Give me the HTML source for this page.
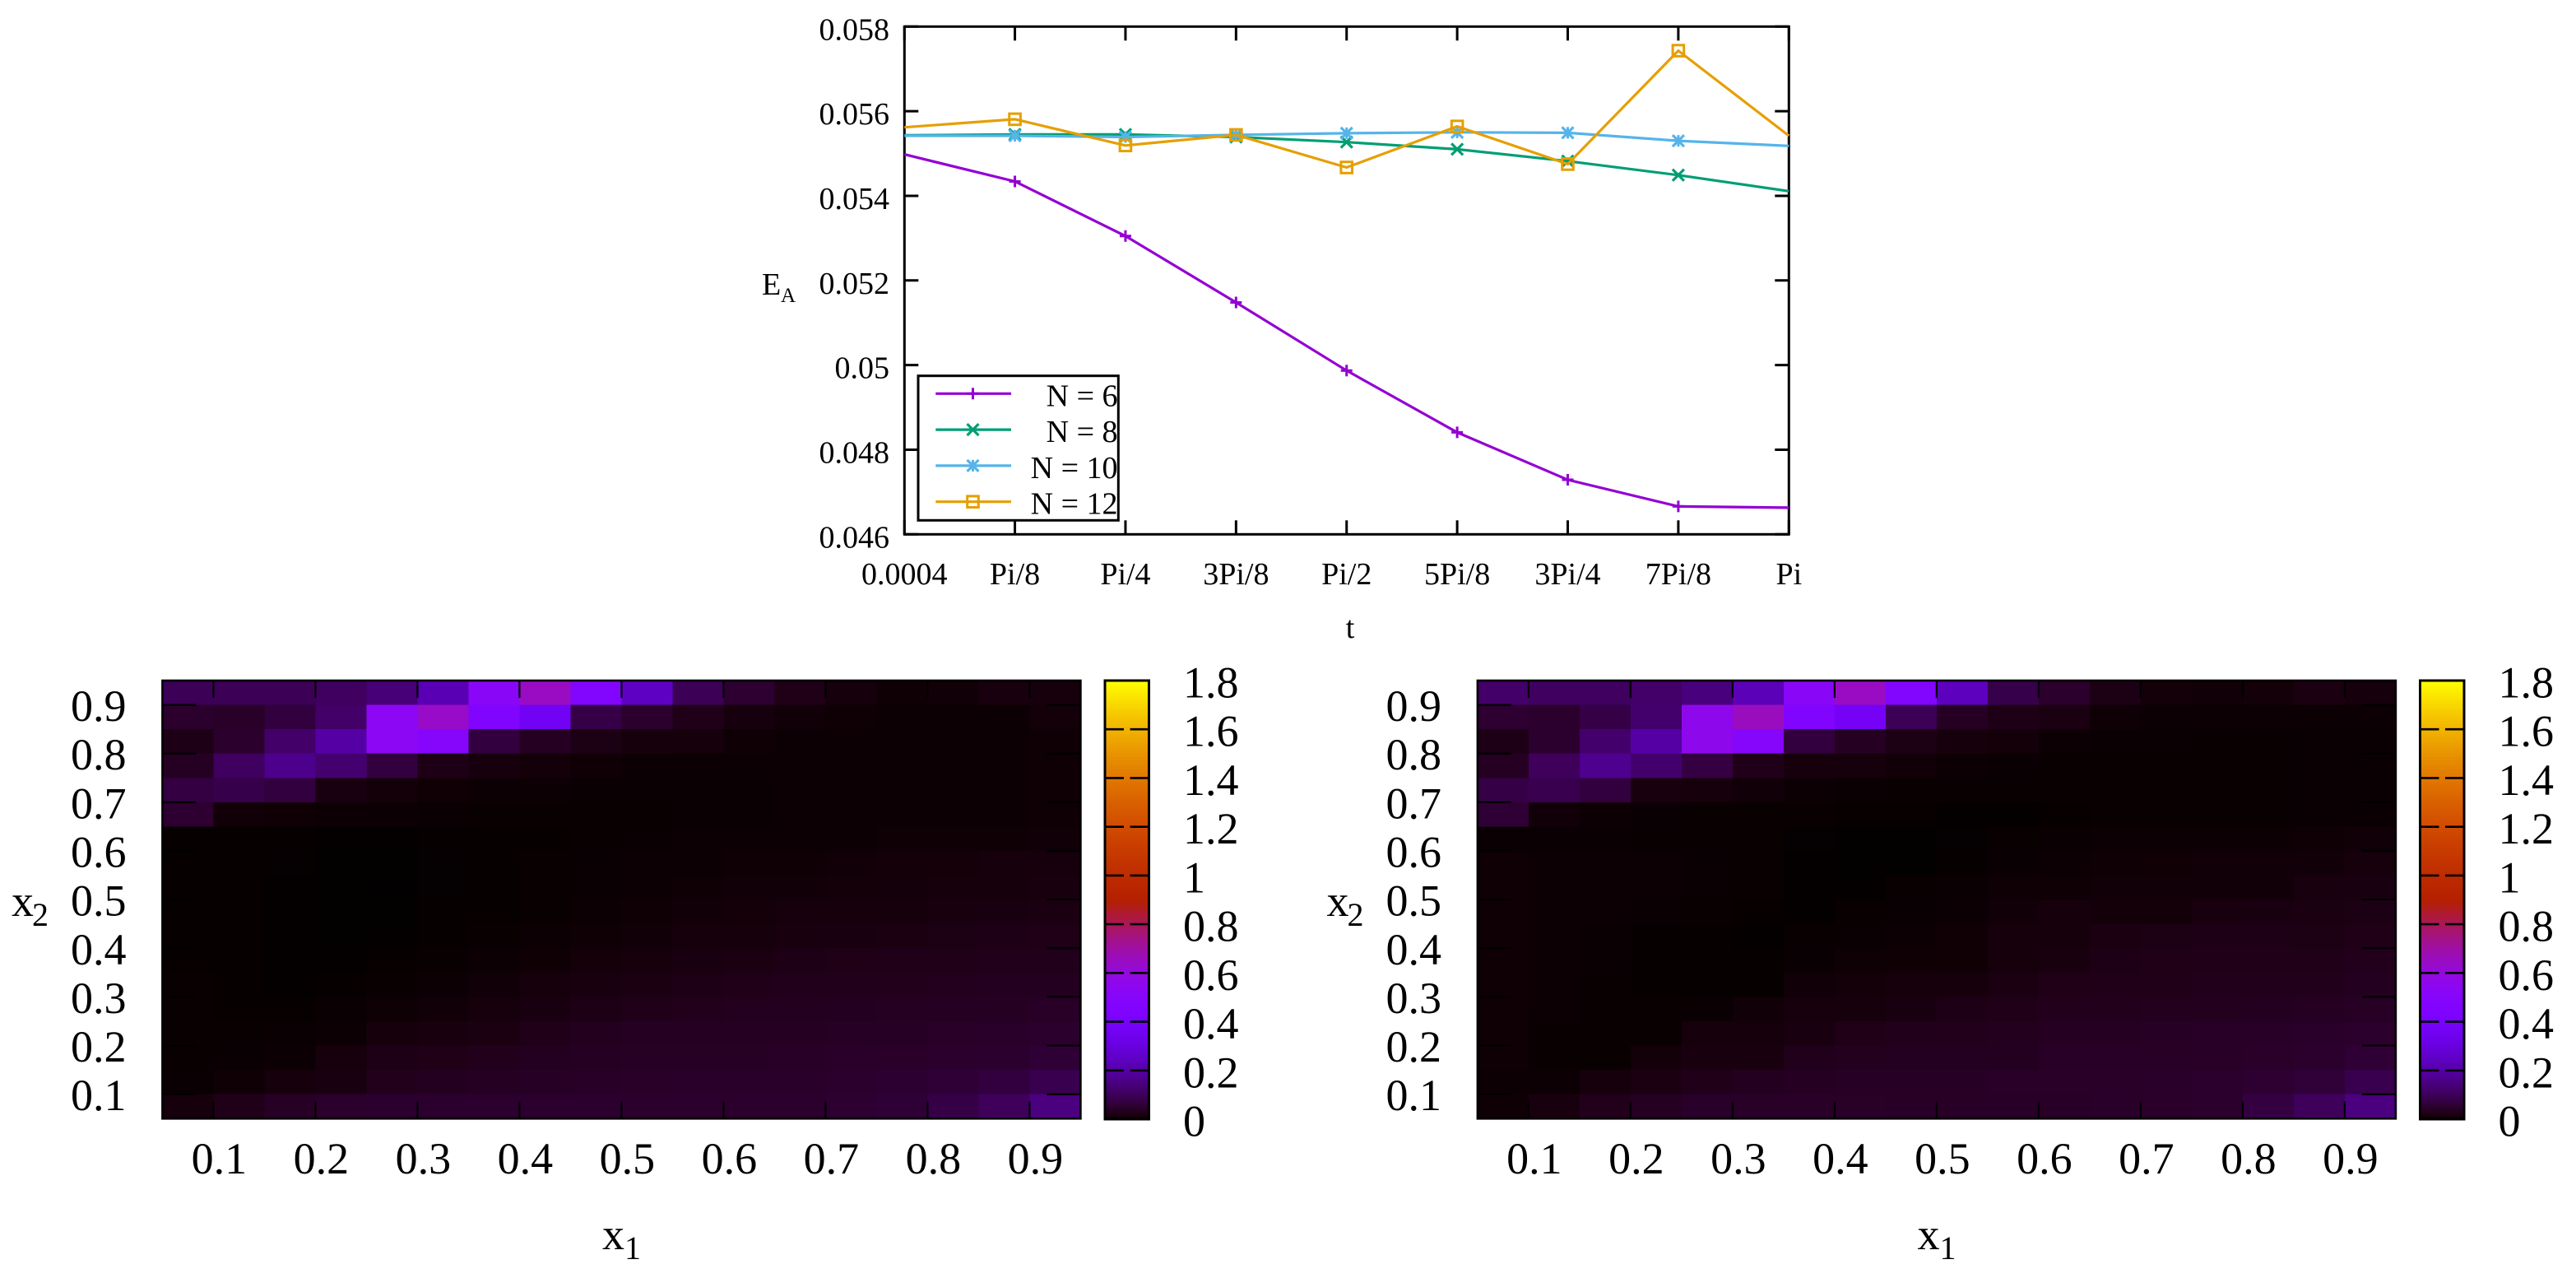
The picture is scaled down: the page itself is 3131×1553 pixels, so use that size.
<!DOCTYPE html>
<html lang="en">
<head>
<meta charset="utf-8">
<title>E_A vs t and x1-x2 heatmaps</title>
<style>
html,body{margin:0;padding:0;background:#fff;}
svg{display:block;}
text{font-family:"Liberation Serif","Times New Roman",serif;fill:#000;}
</style>
</head>
<body>
<svg id="figure" xmlns="http://www.w3.org/2000/svg" width="3131" height="1553" viewBox="0 0 3131 1553">
  <rect x="0" y="0" width="3131" height="1553" fill="#ffffff"/>
  <g id="line-chart">
    <text x="926" y="358" font-size="38">E</text>
    <text x="949" y="367" font-size="25">A</text>
    <text x="1641" y="775" font-size="38" text-anchor="middle">t</text>
  </g>
  <g id="heatmap-left"></g>
  <g id="heatmap-right" transform="translate(1598.5 0)"></g>
</svg>
<script>
// ---------- line chart data ----------
const tValues = [0.0004, 0.3927, 0.7854, 1.1781, 1.5708, 1.9635, 2.3562, 2.7489, 3.1416];
const tLabels = ["0.0004", "Pi/8", "Pi/4", "3Pi/8", "Pi/2", "5Pi/8", "3Pi/4", "7Pi/8", "Pi"];
const yTicks = [0.046, 0.048, 0.05, 0.052, 0.054, 0.056, 0.058];
const yTickLabels = ["0.046", "0.048", "0.05", "0.052", "0.054", "0.056", "0.058"];
const seriesN6 = [0.05498, 0.05434, 0.05305, 0.05148, 0.04987, 0.04841, 0.04729, 0.04666, 0.04663];
const seriesN8 = [0.05543, 0.05545, 0.05545, 0.05539, 0.05527, 0.0551, 0.05482, 0.05449, 0.05411];
const seriesN10 = [0.05542, 0.05542, 0.05539, 0.05544, 0.05548, 0.0555, 0.05549, 0.0553, 0.05518];
const seriesN12 = [0.05562, 0.05581, 0.05519, 0.05544, 0.05467, 0.05564, 0.05475, 0.05743, 0.05542];
const legendLabels = ["N = 6", "N = 8", "N = 10", "N = 12"];

// ---------- heatmap data (rows listed from top, x2 = 0.95 down to 0.05) ----------
const gridEdges = [0.05, 0.10, 0.15, 0.20, 0.25, 0.30, 0.35, 0.40, 0.45, 0.50, 0.55, 0.60, 0.65, 0.70, 0.75, 0.80, 0.85, 0.90, 0.95];
const axisTicks = [0.1, 0.2, 0.3, 0.4, 0.5, 0.6, 0.7, 0.8, 0.9];
const axisTickLabels = ["0.1", "0.2", "0.3", "0.4", "0.5", "0.6", "0.7", "0.8", "0.9"];
const colorTicks = [0, 0.2, 0.4, 0.6, 0.8, 1, 1.2, 1.4, 1.6, 1.8];
const colorTickLabels = ["0", "0.2", "0.4", "0.6", "0.8", "1", "1.2", "1.4", "1.6", "1.8"];
const heatLeft = [
[.10,.10,.10,.11,.14,.225,.52,.65,.47,.25,.10,.055,.026,.012,.006,.008,.016,.014],
[.05,.045,.07,.12,.54,.64,.46,.36,.08,.05,.027,.015,.008,.006,.004,.004,.005,.01],
[.025,.05,.12,.2,.54,.5,.07,.04,.022,.014,.012,.006,.005,.004,.004,.004,.005,.006],
[.04,.11,.165,.13,.07,.025,.015,.01,.007,.005,.004,.004,.004,.004,.004,.004,.005,.006],
[.075,.085,.07,.018,.01,.007,.005,.004,.003,.003,.003,.003,.004,.004,.004,.004,.005,.006],
[.055,.008,.006,.005,.004,.003,.002,.002,.002,.002,.003,.003,.004,.004,.004,.004,.005,.006],
[.001,.001,.001,.0005,.0005,.001,.001,.001,.002,.003,.004,.004,.005,.005,.006,.006,.006,.008],
[.0015,.001,.0008,.0002,.0002,.0008,.001,.002,.003,.004,.005,.006,.006,.008,.01,.01,.012,.012],
[.0015,.001,.0005,.0002,.0001,.0006,.001,.002,.003,.004,.006,.008,.008,.01,.011,.012,.014,.016],
[.0015,.001,.0005,.0002,.0003,.001,.0012,.002,.004,.006,.008,.01,.012,.012,.014,.016,.018,.02],
[.0015,.001,.0005,.0003,.0005,.001,.002,.004,.006,.008,.012,.014,.016,.018,.02,.022,.024,.026],
[.001,.001,.0005,.0005,.001,.002,.004,.006,.01,.014,.018,.02,.024,.026,.028,.028,.03,.03],
[.002,.001,.0005,.001,.002,.004,.008,.012,.016,.02,.024,.028,.03,.03,.032,.034,.036,.036],
[.002,.001,.001,.003,.006,.008,.012,.018,.024,.028,.032,.034,.034,.036,.038,.04,.04,.044],
[.002,.002,.003,.005,.014,.016,.02,.028,.034,.038,.038,.04,.04,.042,.042,.045,.046,.05],
[.002,.003,.005,.012,.024,.026,.032,.036,.04,.042,.042,.042,.044,.046,.048,.05,.052,.06],
[.003,.006,.014,.018,.032,.036,.04,.042,.044,.045,.046,.046,.046,.05,.054,.06,.07,.09],
[.012,.028,.042,.05,.052,.052,.052,.052,.052,.05,.05,.05,.05,.055,.06,.08,.105,.15]
];
const heatRight = [
[.12,.11,.11,.12,.145,.23,.52,.65,.47,.24,.085,.05,.022,.01,.008,.01,.02,.012],
[.055,.05,.08,.125,.56,.66,.46,.38,.1,.04,.025,.02,.006,.004,.004,.004,.004,.004],
[.025,.052,.125,.2,.56,.5,.07,.04,.022,.014,.01,.004,.003,.003,.002,.002,.003,.003],
[.04,.105,.17,.125,.075,.028,.014,.012,.008,.004,.003,.002,.002,.002,.002,.002,.003,.003],
[.08,.09,.07,.016,.012,.008,.004,.003,.002,.002,.002,.002,.002,.002,.002,.002,.003,.003],
[.06,.008,.005,.003,.002,.002,.002,.001,.001,.0005,.0005,.001,.002,.002,.002,.002,.003,.003],
[.003,.003,.003,.002,.002,.002,.0008,.0002,.0002,.0008,.002,.003,.004,.004,.005,.005,.006,.008],
[.006,.005,.004,.004,.003,.002,.0005,.0002,.0002,.001,.003,.004,.006,.007,.008,.008,.009,.012],
[.006,.005,.004,.004,.003,.002,.0005,.0005,.002,.003,.006,.006,.008,.008,.008,.008,.016,.018],
[.006,.004,.004,.003,.002,.001,.0005,.002,.003,.004,.008,.012,.01,.01,.016,.018,.02,.022],
[.006,.004,.003,.001,.001,.0005,.002,.003,.004,.007,.012,.014,.02,.022,.024,.024,.022,.026],
[.006,.004,.003,.001,.001,.001,.003,.006,.006,.007,.012,.016,.024,.026,.028,.028,.028,.032],
[.006,.004,.002,.001,.001,.001,.008,.01,.012,.014,.02,.026,.028,.028,.03,.03,.03,.036],
[.006,.004,.002,.002,.003,.008,.012,.012,.018,.024,.028,.032,.032,.034,.034,.036,.04,.042],
[.006,.002,.002,.002,.012,.013,.018,.026,.03,.032,.034,.04,.04,.042,.044,.044,.046,.05],
[.006,.002,.002,.01,.016,.016,.03,.034,.036,.036,.036,.044,.044,.044,.044,.048,.05,.06],
[.004,.004,.012,.02,.028,.036,.04,.042,.043,.042,.045,.045,.045,.046,.05,.055,.065,.09],
[.006,.016,.032,.04,.046,.045,.045,.045,.044,.044,.044,.044,.046,.048,.05,.075,.105,.15]
];

// ---------- helpers ----------
const NS = "http://www.w3.org/2000/svg";
function make(tag, parent) {
  const el = document.createElementNS(NS, tag);
  parent.appendChild(el);
  return el;
}
function line(parent, x1, y1, x2, y2, color, width) {
  const el = make("line", parent);
  el.setAttribute("x1", x1);
  el.setAttribute("y1", y1);
  el.setAttribute("x2", x2);
  el.setAttribute("y2", y2);
  el.setAttribute("stroke", color);
  el.setAttribute("stroke-width", width);
  return el;
}
function label(parent, x, y, size, anchor, str) {
  const el = make("text", parent);
  el.setAttribute("x", x);
  el.setAttribute("y", y);
  el.setAttribute("font-size", size);
  el.setAttribute("text-anchor", anchor);
  el.textContent = str;
  return el;
}
function palette(t) {
  const f = Math.max(0, Math.min(1, t));
  const r = Math.round(255 * Math.sqrt(f));
  const g = Math.round(255 * f * f * f);
  const b = Math.round(255 * Math.max(0, Math.sin(2 * Math.PI * f)));
  return "rgb(" + r + "," + g + "," + b + ")";
}

// ---------- line chart ----------
const chart = document.getElementById("line-chart");
const plotL = 1099.3, plotR = 2174.3, plotT = 32.3, plotB = 649.3;
function xScale(t) {
  return plotL + (t - tValues[0]) / (tValues[tValues.length - 1] - tValues[0]) * (plotR - plotL);
}
function yScale(v) {
  return plotB - (v - 0.046) / (0.058 - 0.046) * (plotB - plotT);
}
yTicks.forEach(function (v, i) {
  const y = yScale(v);
  const a = line(chart, plotL, y, plotL + 17, y, "#000", 3);
  
  
  const b = line(chart, plotR - 17, y, plotR, y, "#000", 3);
  
  
  const t = label(chart, 1081, y + 16, 38, "end", yTickLabels[i]);
  
  
});
tValues.forEach(function (v, i) {
  const x = xScale(v);
  const a = line(chart, x, plotB - 17, x, plotB, "#000", 3);
  
  
  const b = line(chart, x, plotT, x, plotT + 17, "#000", 3);
  
  
  const t = label(chart, x, 710, 38, "middle", tLabels[i]);
  
  
});
const frame = make("rect", chart);
frame.setAttribute("x", plotL);
frame.setAttribute("y", plotT);
frame.setAttribute("width", plotR - plotL);
frame.setAttribute("height", plotB - plotT);
frame.setAttribute("fill", "none");
frame.setAttribute("stroke", "#000");
frame.setAttribute("stroke-width", 3);



function drawMarker(parent, kind, cx, cy, color) {
  const g = make("g", parent);
  g.setAttribute("stroke", color);
  g.setAttribute("stroke-width", 3);
  g.setAttribute("fill", "none");
  const s = 7;
  if (kind === "plus" || kind === "star") {
    if (kind === "plus") {
      line(g, cx - s, cy, cx + s, cy, color, 3);
    }
    line(g, cx, cy - s, cx, cy + s, color, 3);
  }
  if (kind === "cross" || kind === "star") {
    line(g, cx - s, cy - s, cx + s, cy + s, color, 3.2);
    line(g, cx - s, cy + s, cx + s, cy - s, color, 3.2);
  }
  if (kind === "square") {
    const r = make("rect", g);
    r.setAttribute("x", cx - 6.8);
    r.setAttribute("y", cy - 6.8);
    r.setAttribute("width", 13.6);
    r.setAttribute("height", 13.6);
  }
  return g;
}
function drawSeries(values, color, kind, name) {
  const g = make("g", chart);
  
  
  const path = make("polyline", g);
  path.setAttribute("points", values.map(function (v, i) {
    return xScale(tValues[i]).toFixed(1) + "," + yScale(v).toFixed(1);
  }).join(" "));
  path.setAttribute("fill", "none");
  path.setAttribute("stroke", color);
  path.setAttribute("stroke-width", 3.2);
  
  
  values.forEach(function (v, i) {
    if (i === 0 || i === values.length - 1) return;
    const m = drawMarker(g, kind, xScale(tValues[i]), yScale(v), color);
    
    
  });
}
const seriesColors = ["#9400D3", "#009E73", "#56B4E9", "#E69F00"];
const seriesKinds = ["plus", "cross", "star", "square"];
drawSeries(seriesN6, seriesColors[0], seriesKinds[0], "series-n6");
drawSeries(seriesN8, seriesColors[1], seriesKinds[1], "series-n8");
drawSeries(seriesN10, seriesColors[2], seriesKinds[2], "series-n10");
drawSeries(seriesN12, seriesColors[3], seriesKinds[3], "series-n12");

// legend
const legend = make("g", chart);


const legendBg = make("rect", legend);
legendBg.setAttribute("x", 1116);
legendBg.setAttribute("y", 456.7);
legendBg.setAttribute("width", 243.3);
legendBg.setAttribute("height", 175.6);
legendBg.setAttribute("fill", "#fff");


legendLabels.forEach(function (txt, i) {
  const y = 478.3 + i * 43.8;
  const entry = make("g", legend);
  
  
  const l = line(entry, 1137.3, y, 1229, y, seriesColors[i], 3.2);
  
  
  const m = drawMarker(entry, seriesKinds[i], 1182.5, y, seriesColors[i]);
  
  
  const t = label(entry, 1358.5, y + 15, 38, "end", txt);
  
  
});
const legendBox = make("rect", legend);
legendBox.setAttribute("x", 1116);
legendBox.setAttribute("y", 456.7);
legendBox.setAttribute("width", 243.3);
legendBox.setAttribute("height", 175.6);
legendBox.setAttribute("fill", "none");
legendBox.setAttribute("stroke", "#000");
legendBox.setAttribute("stroke-width", 3);



// ---------- heatmaps ----------
const hmL = 197.4, hmR = 1313.4, hmT = 827, hmB = 1359.3;
const cbL = 1343, cbR = 1396.5, cbT = 828, cbB = 1360;
const colorMax = 1.8;
function hx(v) { return hmL + (v - 0.05) / 0.9 * (hmR - hmL); }
function hy(v) { return hmB - (v - 0.05) / 0.9 * (hmB - hmT); }
function cy(v) { return cbB - v / colorMax * (cbB - cbT + 1); }

function drawHeatmap(root, grid) {
  const cells = make("g", root);
  cells.setAttribute("shape-rendering", "crispEdges");
  
  
  grid.forEach(function (row, r) {
    row.forEach(function (val, c) {
      const x0 = hx(gridEdges[c]);
      const x1 = hx(gridEdges[c + 1]);
      const y0 = hy(gridEdges[gridEdges.length - 1 - r]);
      const y1 = hy(gridEdges[gridEdges.length - 2 - r]);
      const cell = make("rect", cells);
      cell.setAttribute("x", x0.toFixed(2));
      cell.setAttribute("y", y0.toFixed(2));
      cell.setAttribute("width", (x1 - x0 + 0.5).toFixed(2));
      cell.setAttribute("height", (y1 - y0 + 0.5).toFixed(2));
      cell.setAttribute("fill", palette(val / colorMax));
      
      
    });
  });
  axisTicks.forEach(function (v, i) {
    const x = hx(v);
    const y = hy(v);
    const a = line(root, x, hmB - 21, x, hmB, "#000", 2.2);
    
    
    const b = line(root, x, hmT, x, hmT + 21, "#000", 2.2);
    
    
    const c = line(root, hmL, y, hmL + 41, y, "#000", 2.2);
    
    
    const d = line(root, hmR - 41, y, hmR, y, "#000", 2.2);
    
    
    const tx = label(root, x + 7, 1426, 54, "middle", axisTickLabels[i]);
    
    
    const ty = label(root, 153.5, y + 19.5, 54, "end", axisTickLabels[i]);
    
    
  });
  const box = make("rect", root);
  box.setAttribute("x", hmL);
  box.setAttribute("y", hmT);
  box.setAttribute("width", hmR - hmL);
  box.setAttribute("height", hmB - hmT);
  box.setAttribute("fill", "none");
  box.setAttribute("stroke", "#000");
  box.setAttribute("stroke-width", 2.6);
  
  

  // axis titles
  const xt = label(root, 732, 1518, 54, "start", "x");
  
  
  const xs = label(root, 759, 1530, 40, "start", "1");
  
  
  const yt = label(root, 14, 1113, 54, "start", "x");
  
  
  const ys = label(root, 39, 1125, 40, "start", "2");
  
  

  // colorbar
  const bar = make("g", root);
  bar.setAttribute("shape-rendering", "crispEdges");
  
  
  const steps = 133;
  for (let i = 0; i < steps; i++) {
    const v0 = colorMax * i / steps;
    const v1 = colorMax * (i + 1) / steps;
    const strip = make("rect", bar);
    strip.setAttribute("x", cbL);
    strip.setAttribute("y", cy(v1).toFixed(2));
    strip.setAttribute("width", cbR - cbL);
    strip.setAttribute("height", (cy(v0) - cy(v1) + 0.5).toFixed(2));
    strip.setAttribute("fill", palette((v0 + v1) / 2 / colorMax));
    
    
  }
  colorTicks.forEach(function (v, i) {
    const y = cy(v);
    const a = line(root, cbL, y, cbL + 23, y, "#000", 2.6);
    
    
    const b = line(root, cbR - 23, y, cbR, y, "#000", 2.6);
    
    
    const t = label(root, 1438, y + 20.5, 54, "start", colorTickLabels[i]);
    
    
  });
  const cbBox = make("rect", root);
  cbBox.setAttribute("x", cbL);
  cbBox.setAttribute("y", cbT - 1);
  cbBox.setAttribute("width", cbR - cbL);
  cbBox.setAttribute("height", cbB - cbT + 1);
  cbBox.setAttribute("fill", "none");
  cbBox.setAttribute("stroke", "#000");
  cbBox.setAttribute("stroke-width", 3);
  
  
}
drawHeatmap(document.getElementById("heatmap-left"), heatLeft);
drawHeatmap(document.getElementById("heatmap-right"), heatRight);
</script>
</body>
</html>
